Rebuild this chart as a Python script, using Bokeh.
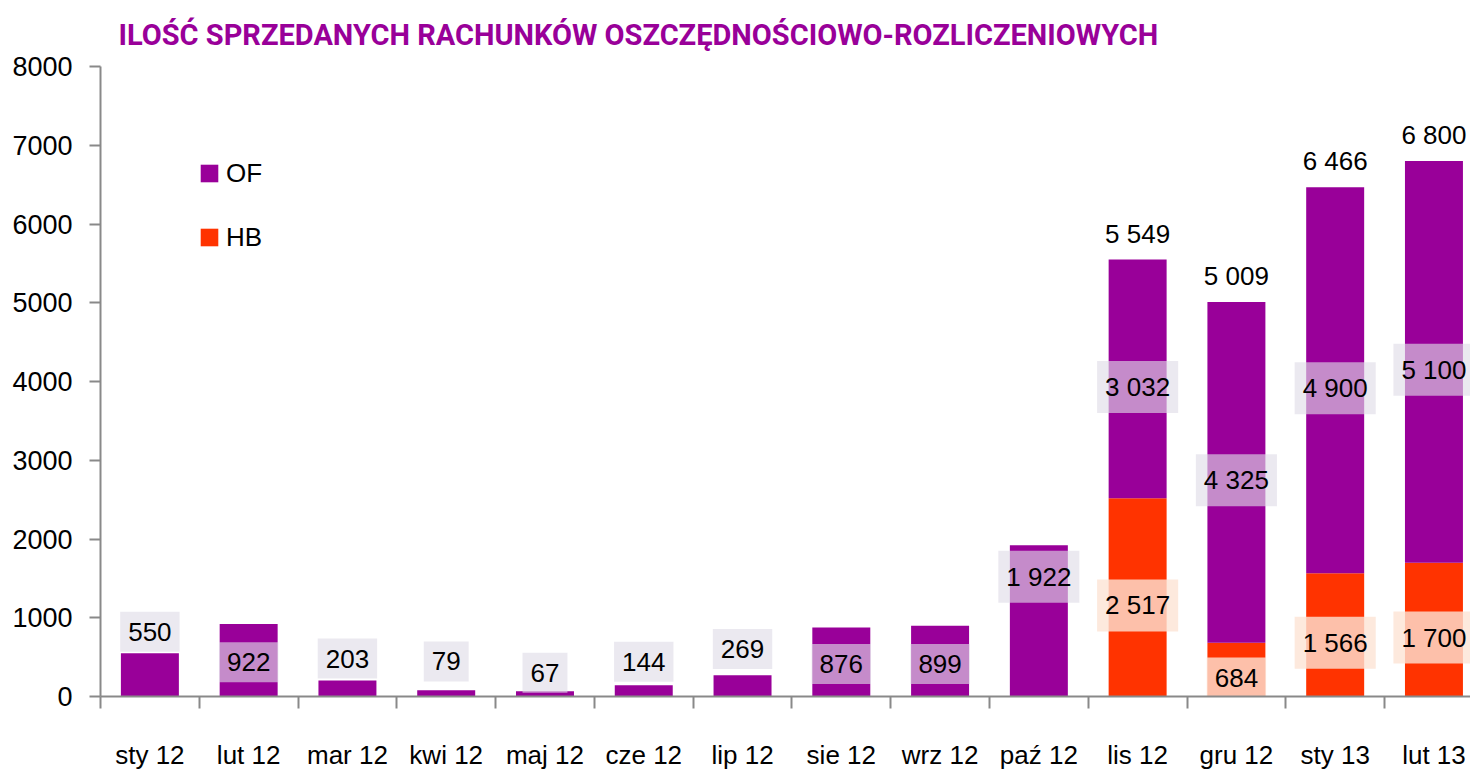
from bokeh.plotting import figure
from bokeh.models import (Range1d, LinearAxis, FixedTicker, Legend, LegendItem,
                          ColumnDataSource, Title)
from bokeh.embed import file_html
from bokeh.resources import INLINE
from bokeh.core.properties import value

# ---------------- data ----------------
months = ["sty 12", "lut 12", "mar 12", "kwi 12", "maj 12", "cze 12", "lip 12",
          "sie 12", "wrz 12", "paź 12", "lis 12", "gru 12", "sty 13", "lut 13"]
of_values = [550, 922, 203, 79, 67, 144, 269, 876, 899, 1922, 3032, 4325, 4900, 5100]
hb_values = [0, 0, 0, 0, 0, 0, 0, 0, 0, 0, 2517, 684, 1566, 1700]
y_ticks = [0, 1000, 2000, 3000, 4000, 5000, 6000, 7000, 8000]
title_text = "ILOŚĆ SPRZEDANYCH RACHUNKÓW OSZCZĘDNOŚCIOWO-ROZLICZENIOWYCH"

# manual nudges (screen px, upward) of the OF labels, as placed in the original
of_label_nudge = [51, 6, 38, 40, 29, 37, 45, 6, 5, 52, 0, 0, 0, 0]

# ---------------- style ----------------
PURPLE = "#990099"
ORANGE = "#FF3300"
AXIS_GREY = "#898989"
FONT = "Liberation Sans"
TITLE_FONT = "Roboto"
BOX_SHIFT = 8          # px, moves boxed labels down to centre digits
BOX_PAD = (8, 11)      # padding of label boxes


def fmt(v):
    return f"{v:,}".replace(",", " ")


n = len(months)
centers = [i + 0.5 for i in range(n)]          # category slots on the x scale
totals = [h + o for h, o in zip(hb_values, of_values)]

src = ColumnDataSource(dict(
    x=centers,
    hb=hb_values,
    of=of_values,
    of_mid=[h + o / 2 for h, o in zip(hb_values, of_values)],
    of_txt=[fmt(o) for o in of_values],
    of_off=[BOX_SHIFT - k for k in of_label_nudge],
))

hb_idx = [i for i, h in enumerate(hb_values) if h > 0]
hb_src = ColumnDataSource(dict(
    x=[centers[i] for i in hb_idx],
    hb_mid=[hb_values[i] / 2 for i in hb_idx],
    hb_txt=[fmt(hb_values[i]) for i in hb_idx],
    total=[totals[i] for i in hb_idx],
    total_txt=[fmt(totals[i]) for i in hb_idx],
))

# the original chart is cropped slightly at the right edge
p = figure(width=1470, height=772, x_range=Range1d(0, n - 0.13),
           y_range=Range1d(0, 8000), output_backend="svg", toolbar_location=None,
           x_axis_location=None, min_border_left=100, min_border_right=0,
           min_border_top=65, min_border_bottom=66)
p.outline_line_color = None
p.xgrid.visible = False
p.ygrid.visible = False
p.background_fill_color = "white"
p.border_fill_color = "white"

# bars
r_hb, r_of = p.vbar_stack(["hb", "of"], x="x", width=0.587, source=src,
                          color=[ORANGE, PURPLE], line_color=None)

# OF labels
p.text(x="x", y="of_mid", text="of_txt", y_offset="of_off", source=src,
       text_align="center", text_baseline="middle", text_font=value(FONT),
       text_font_size="26px", text_color="black",
       background_fill_color="#E0DCE8", background_fill_alpha=0.63, padding=BOX_PAD)
# HB labels
p.text(x="x", y="hb_mid", text="hb_txt", source=hb_src, y_offset=BOX_SHIFT,
       text_align="center", text_baseline="middle", text_font=value(FONT),
       text_font_size="26px", text_color="black",
       background_fill_color="#FCE3D4", background_fill_alpha=0.8, padding=BOX_PAD)
# totals
p.text(x="x", y="total", text="total_txt", source=hb_src, y_offset=-26,
       text_align="center", text_baseline="middle", text_font=value(FONT),
       text_font_size="26px", text_color="black")

# y axis
yax = p.yaxis[0]
yax.ticker = FixedTicker(ticks=y_ticks)
yax.axis_line_color = AXIS_GREY
yax.axis_line_width = 2
yax.major_tick_line_color = AXIS_GREY
yax.major_tick_line_width = 2
yax.major_tick_out = 11
yax.major_tick_in = 0
yax.minor_tick_line_color = None
yax.major_label_standoff = 17
yax.major_label_text_font = FONT
yax.major_label_text_font_size = "27px"
yax.major_label_text_color = "black"

# x axis: labels at category centres, ticks (minor) at category boundaries
x_axis = LinearAxis(ticker=FixedTicker(ticks=centers, minor_ticks=list(range(n + 1))),
                    major_label_overrides={c: m for c, m in zip(centers, months)},
                    axis_line_color=AXIS_GREY, axis_line_width=2,
                    major_tick_line_color=None, major_tick_out=0, major_tick_in=0,
                    minor_tick_line_color=AXIS_GREY, minor_tick_line_width=2,
                    minor_tick_out=12, minor_tick_in=0,
                    major_label_text_font=FONT,
                    major_label_text_font_size="26px",
                    major_label_text_color="black",
                    major_label_standoff=31)
p.add_layout(x_axis, "below")

# legend
legend = Legend(items=[LegendItem(label="OF", renderers=[r_of]),
                       LegendItem(label="HB", renderers=[r_hb])],
                location=(98, 442), padding=0, margin=0, spacing=30,
                glyph_width=22, glyph_height=22, label_height=34,
                label_standoff=6, label_text_font=FONT,
                label_text_font_size="26px", label_text_color="black",
                border_line_color=None, background_fill_alpha=0)
p.add_layout(legend)

# title
p.add_layout(Title(text=title_text, align="left", offset=18, text_font=TITLE_FONT,
                   text_font_size="29px", text_font_style="bold",
                   text_color=PURPLE, standoff=30), "above")

open("out.html", "w").write(file_html(p, INLINE))
